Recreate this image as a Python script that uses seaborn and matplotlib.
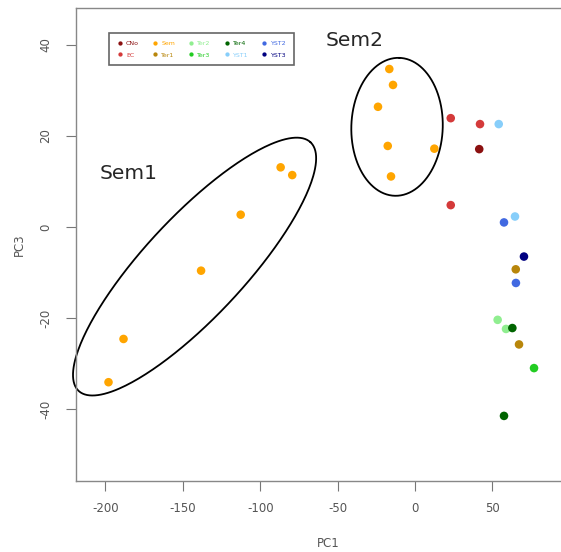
#PCA plot (PC1 vs PC3) with the two Sem clusters circled
import numpy as np
import pandas as pd
import matplotlib
matplotlib.use('Agg')
import matplotlib.pyplot as plt
import seaborn as sns

groups = ['CNo', 'EC', 'Sem', 'Ter1', 'Ter2', 'Ter3', 'Ter4', 'YST1', 'YST2', 'YST3']
colors = ['#8B1010', '#D43A3A', '#FFA500', '#B8860B', '#90EE90',
          '#22CC22', '#006400', '#87CEFA', '#4169E1', '#000080']

# sample groups and coordinates
sample_group = (['Sem'] * 12 + ['EC'] * 3 + ['CNo'] + ['YST1'] * 2 + ['YST2'] * 2
                + ['YST3'] + ['Ter1'] * 2 + ['Ter2'] * 2 + ['Ter4'] * 2 + ['Ter3'])
pc1 = [-198.0, -188.3, -138.2, -112.6, -86.8, -79.3,
       -16.6, -14.2, -23.9, -17.6, 12.5, -15.5,
       23.1, 42.0, 23.1,
       41.5,
       54.1, 64.6,
       57.5, 65.2,
       70.4,
       65.1, 67.2,
       53.4, 58.8,
       62.9, 57.5,
       76.9]
pc3 = [-34.1, -24.6, -9.6, 2.7, 13.1, 11.4,
       34.7, 31.2, 26.4, 17.8, 17.2, 11.1,
       23.9, 22.6, 4.8,
       17.1,
       22.6, 2.3,
       1.0, -12.3,
       -6.5,
       -9.3, -25.8,
       -20.4, -22.4,
       -22.2, -41.5,
       -31.0]

df = pd.DataFrame({'PC1': pc1, 'PC3': pc3, 'group': sample_group})

sns.set_style('white')
plt.rcParams['axes.unicode_minus'] = False
fig = plt.figure(figsize=(5.61, 5.52), dpi=100)
ax = fig.add_axes([76 / 561, 71 / 552, 504 / 561, 473 / 552])

sns.scatterplot(data=df, x='PC1', y='PC3', hue='group', hue_order=groups,
                palette=dict(zip(groups, colors)), s=38, linewidth=0, ax=ax)

ax.set_xlim(-219, 106.6)
ax.set_ylim(-55.8, 48.1)
ax.set_xticks([-200, -150, -100, -50, 0, 50])
ax.set_yticks([-40, -20, 0, 20, 40])
ax.tick_params(axis='both', direction='out', length=7, width=0.8,
               color='#777777', labelcolor='#555555', labelsize=8.5, left=True, bottom=True)
ax.tick_params(axis='x', pad=8)
ax.tick_params(axis='y', pad=10)
for lab in ax.get_yticklabels():
    lab.set_rotation(90)
    lab.set_va('center')
for sp in ax.spines.values():
    sp.set_color('#888888')
    sp.set_linewidth(1.0)
ax.set_xlabel('PC1', color='#555555', fontsize=8.5, labelpad=16)
ax.set_ylabel('PC3', color='#555555', fontsize=8.5, labelpad=10)

# ellipses drawn in screen-like units so they keep their shape
sx = 504 / (106.6 + 219)
sy = 473 / (48.1 + 55.8)
t = np.linspace(0, 2 * np.pi, 300)

def draw_ellipse(cx, cy, a, b, ang):
    th = np.deg2rad(ang)
    dx = a * np.cos(t) * np.cos(th) - b * np.sin(t) * np.sin(th)
    dy = a * np.cos(t) * np.sin(th) + b * np.sin(t) * np.cos(th)
    ax.plot(cx + dx / sx, cy + dy / sy, color='black', lw=1.3, clip_on=False)

draw_ellipse(-142.4, -8.7, 170, 50, 47)
draw_ellipse(-11.6, 22.0, 69, 45.7, 88)

ax.text(-204, 11.8, 'Sem1', fontsize=14.5, va='center', ha='left')
ax.text(-58, 41.0, 'Sem2', fontsize=14.5, va='center', ha='left')

handles, labels = ax.get_legend_handles_labels()
leg = ax.legend(handles, labels, ncol=5, loc='upper left', bbox_to_anchor=(0.0595, 0.953),
                fontsize=4.5, markerscale=0.5, handlelength=1.0, handletextpad=0.5,
                columnspacing=2.05, labelspacing=0.95, borderpad=1.2, fancybox=False,
                framealpha=1, edgecolor='#666666', labelcolor='markerfacecolor')
leg.get_frame().set_linewidth(1.2)

fig.savefig('out.png', dpi=100)
